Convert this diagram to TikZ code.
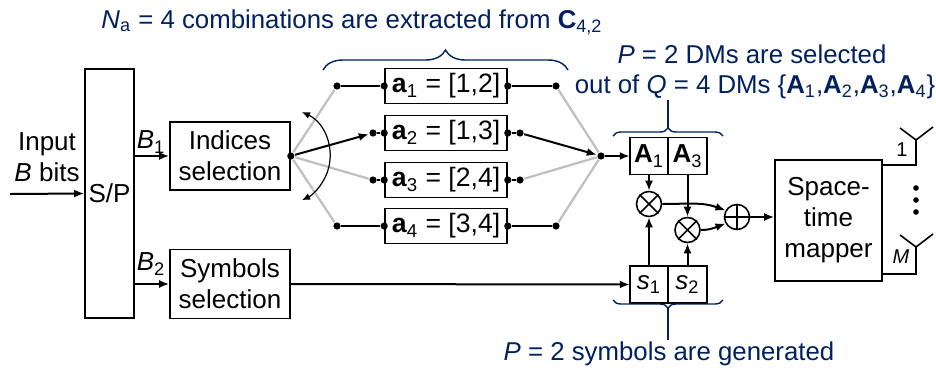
\documentclass[tikz,border=0pt]{standalone}
\usepackage{fontspec}
\setmainfont{Liberation Sans}
\usepackage{xcolor}
\usetikzlibrary{positioning, arrows.meta, calc, decorations.pathreplacing}
\definecolor{navyblue}{RGB}{0,32,96}
\definecolor{lightgrey}{RGB}{191,191,191}

\begin{document}
\begin{tikzpicture}[
    x=0.5pt, y=-0.5pt, line width=0.8pt,
    block/.style={draw, rectangle, align=center, inner sep=1pt, font=\fontsize{13}{15.5}\selectfont},
    combbox/.style={draw, rectangle, minimum width=61pt, minimum height=17.5pt, inner sep=0pt, font=\fontsize{13.3}{15}\selectfont},
    cell/.style={draw, rectangle, minimum width=19.25pt, minimum height=18.5pt, inner sep=0pt, outer sep=0pt, font=\fontsize{13}{15}\selectfont},
    opnode/.style={draw, circle, minimum size=12.5pt, inner sep=0pt},
    dot/.style={circle, fill, inner sep=0pt, minimum size=3.6pt},
    arrow/.style={-{Latex[length=5pt,width=4pt]}, line width=1pt},
    wire/.style={line width=1pt},
    greyline/.style={lightgrey, line width=1.1pt},
    bluetext/.style={navyblue, font=\fontsize{12.9}{15}\selectfont},
    bluebrace/.style={navyblue, line width=0.7pt, decorate, decoration={brace, amplitude=4pt}},
    txt/.style={font=\fontsize{13}{15.5}\selectfont, align=center}
]
    \useasboundingbox (0,0) rectangle (936,370);

    % ================= INPUT AND S/P =================
    \coordinate (inp) at (10,194);
    \node[block, minimum width=24.5pt, minimum height=124.5pt] (sp) at (109.5,193.5) {S/P};
    \node[txt] (inlab) at (47,157) {Input\\\textit{B} bits};
    \draw[arrow] (inp) -- (sp.west);

    \node[block, minimum width=60pt, minimum height=34pt] (isel) at (230,156) {Indices\\selection};
    \node[block, minimum width=60pt, minimum height=34.5pt] (ssel) at (230,284) {Symbols\\selection};

    \draw[arrow] (sp.east |- isel.west) -- (isel.west);
    \draw[arrow] (sp.east |- ssel.west) -- (ssel.west);
    \node[txt] (b1) at (151,142) {\textit{B}\textsubscript{1}};
    \node[txt] (b2) at (151,264) {\textit{B}\textsubscript{2}};

    % ================= COMBINATIONS =================
    \foreach \i/\y/\v in {1/86/{[1,2]}, 2/133/{[1,3]}, 3/180/{[2,4]}, 4/226/{[3,4]}} {
        \node[combbox] (a\i) at (446,\y) {\textbf{a}\textsubscript{\i} = \v};
        \node[dot] (l\i) at (a\i.west) {};
        \node[dot] (r\i) at (a\i.east) {};
    }

    \node[dot] (src) at (isel.east) {};
    \node[dot] (mrg) at (601,156) {};
    \node[dot] (ol1) at (337,86) {};
    \node[dot] (or1) at (556,86) {};
    \node[dot] (ol4) at (337,226) {};
    \node[dot] (or4) at (556,226) {};
    \node[dot] (sl2) at (373,133) {};
    \node[dot] (sr2) at (520,133) {};
    \node[dot] (sl3) at (373,180) {};
    \node[dot] (sr3) at (520,180) {};

    % switch paths not taken
    \draw[greyline] (src) -- (ol1);
    \draw[greyline] (src) -- (sl3);
    \draw[greyline] (src) -- (ol4);
    \draw[greyline] (or1) -- (mrg);
    \draw[greyline] (sr3) -- (mrg);
    \draw[greyline] (or4) -- (mrg);

    \draw[wire] (ol1) -- (l1);
    \draw[wire] (r1) -- (or1);
    \draw[wire] (sl2) -- (l2);
    \draw[wire] (r2) -- (sr2);
    \draw[wire] (sl3) -- (l3);
    \draw[wire] (r3) -- (sr3);
    \draw[wire] (ol4) -- (l4);
    \draw[wire] (r4) -- (or4);

    % selected path
    \draw[arrow] (src) -- (sl2);
    \draw[arrow] (sr2) -- (mrg);

    \coordinate (swtop) at (302,112);
    \draw[{Latex[length=4pt,width=3.5pt]}-{Latex[length=4pt,width=3.5pt]}, line width=0.6pt]
        (swtop) arc[start angle=65, end angle=-65, radius=24.3pt];

    % ================= DMs AND SYMBOLS =================
    \node[cell] (A1) at (649,156) {\textbf{A}\textsubscript{1}};
    \node[cell, right=0pt of A1] (A3) {\textbf{A}\textsubscript{3}};
    \node[cell] (s1) at (649,284.5) {\textit{s}\textsubscript{1}};
    \node[cell, right=0pt of s1] (s2) {\textit{s}\textsubscript{2}};

    \draw[arrow] (mrg) -- (A1.west);
    \draw[arrow] (ssel.east) -- (s1.west);

    \node[opnode] (m1) at (649,204) {};
    \node[opnode] (m2) at (687.5,230) {};
    \node[opnode] (pl) at (737,217) {};
    \foreach \n in {m1,m2} {
        \draw (\n.45) -- (\n.-135);
        \draw (\n.135) -- (\n.-45);
    }
    \draw (pl.north) -- (pl.south);
    \draw (pl.west) -- (pl.east);

    \draw[arrow] (A1) -- (m1);
    \draw[arrow] (s1) -- (m1);
    \draw[arrow] (A3) -- (m2);
    \draw[arrow] (s2) -- (m2);
    \draw[arrow] (m1.east) to[out=0, in=160] (pl.150);
    \draw[arrow] (m2.east) to[out=0, in=-160] (pl.-150);

    % ================= SPACE-TIME MAPPER =================
    \node[block, minimum width=53.5pt, minimum height=60.5pt] (stm) at (828.5,220.5) {Space-\\time\\mapper};
    \draw[arrow] (pl.east) -- (pl.east -| stm.west);

    \tikzset{
        ant/.pic={
            \draw (0,0) -- (-16,-12);
            \draw (0,0) -- (17,-13);
        }
    }
    \coordinate (f1) at (916,140);
    \coordinate (fM) at (916,247);
    \draw (f1) |- ([yshift=-3pt]stm.north east);
    \draw (fM) |- ([yshift=4pt]stm.south east);
    \pic at (f1) {ant};
    \pic at (fM) {ant};
    \node[font=\fontsize{10}{11}\selectfont] (n1) at (902,150) {1};
    \node[font=\fontsize{10}{11}\selectfont] (nM) at (901,257) {\textit{M}};
    \foreach \yy in {188,200,212} \fill (916,\yy) circle (1.4pt);

    % ================= BRACES AND NOTES =================
    \draw[bluebrace, decoration={amplitude=10pt}] (323,70) -- (568,70);
    \draw[bluebrace] (613,136) -- (723,136);
    \draw[navyblue, line width=0.7pt] (668,128) -- (668,100);
    \draw[bluebrace] (723,300) -- (613,300);
    \draw[navyblue, line width=0.7pt] (668,308) -- (668,340);

    \node[bluetext, anchor=base] (t1) at (352,28) {\textit{N}\textsubscript{a} = 4 combinations are extracted from \textbf{C}\textsubscript{4,2}};
    \node[bluetext, anchor=base] (t2) at (752,63) {\textit{P} = 2 DMs are selected};
    \node[bluetext, anchor=base] (t3) at (755,93) {out of \textit{Q} = 4 DMs \{\textbf{A}\textsubscript{1},\textbf{A}\textsubscript{2},\textbf{A}\textsubscript{3},\textbf{A}\textsubscript{4}\}};
    \node[bluetext, anchor=base] (t4) at (669,360) {\textit{P} = 2 symbols are generated};

\end{tikzpicture}
\end{document}
